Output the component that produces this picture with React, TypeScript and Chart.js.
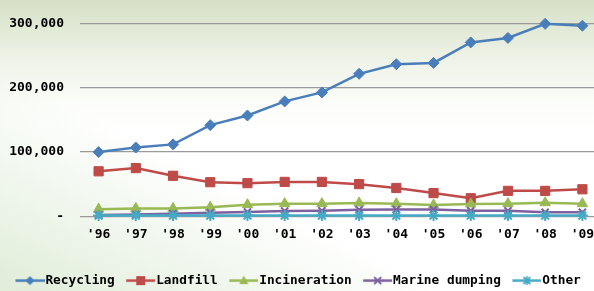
import React, { useEffect, useRef } from "react";
import { Chart, registerables } from "chart.js";

Chart.register(...registerables);

const years = ["'96", "'97", "'98", "'99", "'00", "'01", "'02", "'03", "'04", "'05", "'06", "'07", "'08", "'09"];
const recycling = [100000, 107000, 112000, 142000, 157000, 179000, 193000, 222000, 237000, 239000, 271000, 278000, 300000, 297000];
const landfill = [70000, 75000, 63000, 53000, 51500, 53500, 53500, 50000, 44000, 36000, 28000, 39500, 39500, 42000];
const incineration = [11000, 12000, 12000, 14000, 18000, 19500, 19500, 20500, 19500, 17500, 19000, 19500, 21000, 19500];
const marineDumping = [2000, 2500, 4000, 5500, 6500, 8000, 8500, 10000, 10500, 10500, 8500, 8500, 6000, 6000];
const other = [1000, 1000, 1000, 1000, 1000, 1000, 1000, 1000, 1000, 1000, 1000, 1000, 1000, 1000];
const seriesNames = ["Recycling", "Landfill", "Incineration", "Marine dumping", "Other"];
const yTicks = [0, 100000, 200000, 300000];

const colors = ["#4a7ebb", "#be4b48", "#98b954", "#7d60a0", "#46aac5"];
const styles = ["rectRot", "rect", "triangle", "crossRot", "star"];
const radii = [5.5, 6.5, 6, 5, 5.5];
const FONT = "'DejaVu Sans Mono', 'Liberation Mono', monospace";

function makeLegendImage(i: number): HTMLCanvasElement {
  const c = document.createElement("canvas");
  c.width = 36;
  c.height = 13;
  const ctx = c.getContext("2d")!;
  const col = colors[i];
  ctx.strokeStyle = col;
  ctx.fillStyle = col;
  ctx.lineWidth = 2.5;
  ctx.beginPath();
  ctx.moveTo(7, 6.5);
  ctx.lineTo(36, 6.5);
  ctx.stroke();
  const cx = 21.5, cy = 6.5;
  ctx.lineWidth = 1.8;
  ctx.beginPath();
  if (i === 0) {
    ctx.moveTo(cx, cy - 4.5); ctx.lineTo(cx + 4.5, cy); ctx.lineTo(cx, cy + 4.5); ctx.lineTo(cx - 4.5, cy); ctx.closePath(); ctx.fill();
  } else if (i === 1) {
    ctx.fillRect(cx - 4.5, cy - 4.5, 9, 9);
  } else if (i === 2) {
    ctx.moveTo(cx, cy - 5); ctx.lineTo(cx + 4.5, cy + 3.5); ctx.lineTo(cx - 4.5, cy + 3.5); ctx.closePath(); ctx.fill();
  } else if (i === 3) {
    ctx.moveTo(cx - 3.5, cy - 3.5); ctx.lineTo(cx + 3.5, cy + 3.5);
    ctx.moveTo(cx + 3.5, cy - 3.5); ctx.lineTo(cx - 3.5, cy + 3.5); ctx.stroke();
  } else {
    ctx.moveTo(cx - 3.5, cy - 3.5); ctx.lineTo(cx + 3.5, cy + 3.5);
    ctx.moveTo(cx + 3.5, cy - 3.5); ctx.lineTo(cx - 3.5, cy + 3.5);
    ctx.moveTo(cx, cy - 4.5); ctx.lineTo(cx, cy + 4.5); ctx.stroke();
  }
  return c;
}

export default function App() {
  const ref = useRef<HTMLCanvasElement | null>(null);

  useEffect(() => {
    if (!ref.current) return;
    const series = [recycling, landfill, incineration, marineDumping, other];
    const imgs = series.map((_, i) => makeLegendImage(i));
    const chart = new Chart(ref.current, {
      type: "line",
      data: {
        labels: years,
        datasets: series.map((d, i) => ({
          label: seriesNames[i],
          data: d,
          borderColor: colors[i],
          backgroundColor: colors[i],
          pointBackgroundColor: colors[i],
          pointBorderColor: colors[i],
          borderWidth: 2.5,
          pointStyle: styles[i] as any,
          pointRadius: radii[i],
          pointBorderWidth: i >= 3 ? 2 : 1,
          tension: 0,
          clip: false as any,
          order: 5 - i,
          yAxisID: "y",
        })),
      },
      options: {
        animation: false,
        responsive: false,
        maintainAspectRatio: false,
        layout: { padding: { left: 4, top: 22, right: 0, bottom: 0 } },
        plugins: {
          tooltip: { enabled: false },
          legend: {
            position: "bottom",
            align: "start",
            labels: {
              usePointStyle: true,
              pointStyleWidth: 25,
              padding: 10,
              color: "#000",
              font: { family: FONT, size: 12.8, weight: "bold" },
              sort: (a: any, b: any) => a.datasetIndex - b.datasetIndex,
              generateLabels: (ch: any) => {
                const base = Chart.defaults.plugins.legend.labels.generateLabels(ch);
                return base.map((l: any) => ({ ...l, pointStyle: imgs[l.datasetIndex] }));
              },
            },
          },
        },
        scales: {
          x: {
            offset: true,
            grid: { display: false },
            border: { display: false },
            ticks: {
              color: "#000",
              padding: 3,
              maxRotation: 0,
              autoSkip: false,
              font: { family: FONT, size: 13, weight: "bold" },
            },
            afterFit: (s: any) => { s.height = 48; },
          },
          y: {
            position: "left",
            min: 0,
            max: 300000,
            afterBuildTicks: (s: any) => { s.ticks = yTicks.map((v) => ({ value: v })); },
            grid: { color: "#9a9a9a", lineWidth: 1.3, drawTicks: false },
            border: { display: false },
            ticks: {
              color: "#000",
              padding: 16,
              font: { family: FONT, size: 13, weight: "bold" },
              callback: (v: any) => (Number(v) === 0 ? "-" : Number(v).toLocaleString("en-US")),
            },
            afterFit: (s: any) => { s.width = 76; },
          },
          y2: {
            position: "right",
            display: true,
            grid: { display: false },
            border: { display: false },
            ticks: { display: false },
            afterFit: (s: any) => { s.width = 29; },
          },
        },
      },
    });
    return () => chart.destroy();
  }, []);

  return (
    <div
      style={{
        position: "fixed",
        left: 0,
        top: 0,
        width: 594,
        height: 291,
        overflow: "hidden",
        background:
          "linear-gradient(to top right, rgba(222,236,214,0.95) 0%, rgba(236,244,232,0.7) 22%, rgba(255,255,255,0) 38%), linear-gradient(to bottom, rgb(214,224,198) 0%, rgb(236,241,228) 18%, rgb(252,253,250) 36%, #ffffff 45%)",
      }}
    >
      <canvas ref={ref} width={630} height={297} style={{ display: "block" }} />
    </div>
  );
}
